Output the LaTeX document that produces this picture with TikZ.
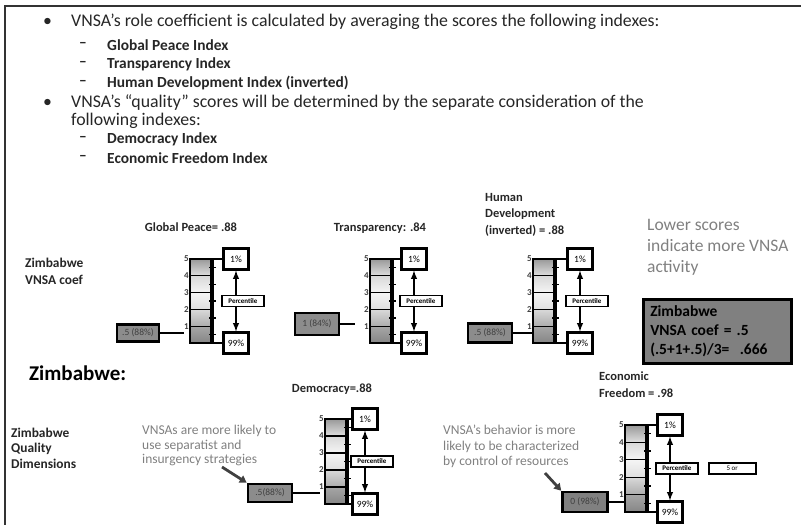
\documentclass[tikz,border=0pt]{standalone}
\usepackage{fontspec}
\setmainfont{Carlito}
\usetikzlibrary{arrows.meta,positioning,calc}

% percentile meter: name, bar left, bar top, bar height, offset of the boxes
\newcommand{\meter}[5]{%
  \foreach \c/\tc/\bc in {0/gray!80/gray!25, 1/gray!30/gray!8, 2/gray!8/gray!25, 3/gray!30/gray!65, 4/gray!70/gray!95} {
    \draw[cell, top color=\tc, bottom color=\bc] (#2,{#3+\c*#4/5}) rectangle ++(21,#4/5);
    \draw[tick] (#2+19,{#3+(\c+0.5)*#4/5}) -- ++(7,0);
    \fill (#2+22.5,{#3+(\c+0.5)*#4/5}) circle (1.5);
    \node[lvl] at (#2-1,{#3+\c*#4/5}) {\pgfmathparse{int(5-\c)}\pgfmathresult};
  }
  \coordinate (#1-t) at (#2,#3);
  \coordinate (#1-b) at (#2,#3+#4);
  \node[pctbox] (#1-hi) at (#2+#5+13,#3) {1\%};
  \node[pctbox] (#1-lo) at (#2+#5+13,#3+#4) {99\%};
  \node[pcttag, anchor=west] (#1-mid) at (#2+#5-2,#3+#4/2) {Percentile};
  \draw[barline] (#2+22.5,#3) -- (#2+22.5,#3+#4);
  \draw[barline] (#1-t) -- (#1-hi.west);
  \draw[barline] (#1-b) -- (#1-lo.west);
  \draw[arrow] (#1-hi.south |- #1-mid.north) -- (#1-hi.south);
  \draw[arrow] (#1-hi.south |- #1-mid.south) -- (#1-lo.north);
}

\begin{document}
\begin{tikzpicture}[
    x=1pt, y=-1pt,
    body/.style={anchor=west, inner sep=0pt, font=\fontsize{17.8}{18}\selectfont, text=black!85},
    item/.style={anchor=west, inner sep=0pt, font=\fontsize{15.4}{16}\selectfont\bfseries, text=black!85},
    title/.style={inner sep=0pt, font=\fontsize{12.5}{16.5}\selectfont\bfseries, text=black!85},
    rowlab/.style={anchor=north west, align=left, inner sep=0pt, font=\fontsize{13.4}{17}\selectfont\bfseries, text=black!85},
    note/.style={anchor=north west, align=left, inner sep=0pt, font=\fontsize{13.5}{14.5}\selectfont, text=black!50},
    cell/.style={draw=black, line width=1.3pt},
    tick/.style={line width=1.4pt},
    lvl/.style={anchor=east, inner sep=0pt, font=\fontsize{9}{9}\selectfont\bfseries, text=black!75},
    barline/.style={line width=2pt},
    pctbox/.style={draw, line width=2.2pt, fill=white, minimum width=25pt, minimum height=21pt, inner sep=0pt, font=\fontsize{9.5}{9.5}\selectfont},
    pcttag/.style={draw, line width=1.8pt, fill=white, minimum width=42pt, minimum height=11pt, inner sep=0pt, font=\fontsize{7}{7}\selectfont\bfseries},
    score/.style={draw, line width=2.5pt, fill=gray!90, minimum width=43pt, minimum height=18pt, inner sep=0pt, font=\fontsize{9.5}{9.5}\selectfont, text=black!75},
    arrow/.style={->, >=latex, line width=1.8pt},
    notearrow/.style={-{Triangle[length=7pt,width=8pt]}, line width=2.8pt, draw=black!75}
]
    \useasboundingbox (0,0) rectangle (801,525);
    \draw[line width=1.3pt, black!80] (5,525) -- (5,6) -- (801,6);

    % bullet list
    \node[body] (b1) at (43,22) {\textbullet};
    \node[body] (l1) at (71,22) {VNSA's role coefficient is calculated by averaging the scores the following indexes:};
    \node[item] (d1) at (79,45) {--};
    \node[item] (i1) at (107,45) {Global Peace Index};
    \node[item] (d2) at (79,64) {--};
    \node[item] (i2) at (107,64) {Transparency Index};
    \node[item] (d3) at (79,83) {--};
    \node[item] (i3) at (107,83) {Human Development Index (inverted)};
    \node[body] (b2) at (43,103) {\textbullet};
    \node[body] (l2) at (71,103) {VNSA's ``quality'' scores will be determined by the separate consideration of the};
    \node[body] (l3) at (71,121) {following indexes:};
    \node[item] (d4) at (79,139) {--};
    \node[item] (i4) at (107,139) {Democracy Index};
    \node[item] (d5) at (79,158) {--};
    \node[item] (i5) at (107,158) {Economic Freedom Index};

    % role coefficient row
    \node[rowlab] (coef) at (25,258) {Zimbabwe\\VNSA coef};
    \node[title] (gpt) at (191,227) {Global Peace= .88};
    \node[title] (trt) at (380,228) {Transparency: .84};
    \node[title, anchor=north west, align=left] (hdt) at (485,193) {Human\\Development\\(inverted) = .88};

    \meter{gp}{190}{259}{84}{33}
    \meter{tr}{370}{259}{84}{31}
    \meter{hd}{533}{259}{84}{34}

    \node[score, minimum width=42pt, minimum height=17pt] (gps) at (138,333) {.5 (88\%)};
    \coordinate (gp-in) at (184,333);
    \draw[barline] (gps) -- (gp-in);
    \node[score, minimum width=44pt, minimum height=22pt] (trs) at (317,324) {1 (84\%)};
    \coordinate (tr-in) at (355,324);
    \draw[barline] (trs) -- (tr-in);
    \node[score, minimum width=44pt, minimum height=19pt] (hds) at (490,333) {.5 (88\%)};
    \draw[barline] (hds) -- (hd-b |- hds);

    \node[anchor=north west, align=left, inner sep=0pt, font=\fontsize{17.5}{21}\selectfont, text=black!50] (lower) at (647,219) {Lower scores\\indicate more VNSA\\activity};
    \node[draw, line width=2.5pt, fill=gray, anchor=north west, minimum width=148pt, minimum height=64pt, text width=134pt, align=left, inner xsep=7pt, inner ysep=4pt, font=\fontsize{15.5}{19}\selectfont\bfseries] (total) at (642,298) {Zimbabwe\\VNSA coef = .5\\(.5+1+.5)/3=\ \ .666};

    % quality dimensions row
    \node[anchor=west, inner sep=0pt, font=\fontsize{21}{22}\selectfont\bfseries] (zim) at (29,373) {Zimbabwe:};
    \node[rowlab, font=\fontsize{13.4}{15.2}\selectfont\bfseries] (qual) at (11,428) {Zimbabwe\\Quality\\Dimensions};
    \node[title] (dmt) at (332,389) {Democracy=.88};
    \node[title, anchor=north west, align=left] (eft) at (599,372) {Economic\\Freedom = .98};

    \meter{dm}{325}{419}{85}{27}
    \meter{ef}{625}{425}{87}{32}
    \node[pcttag, minimum width=47pt, right=9pt of ef-mid, font=\fontsize{7}{7}\selectfont] (efor) {5 or};

    \node[score, minimum width=44pt, minimum height=18pt] (dms) at (270,493) {.5(88\%)};
    \coordinate (dm-in) at (320,493);
    \draw[barline] (dms) -- (dm-in);
    \node[score, minimum width=45pt, minimum height=20pt, fill=gray] (efs) at (585,502) {0 (98\%)};
    \draw[barline] (efs) -- (ef-b |- efs);

    \node[note] (note1) at (142,425) {VNSAs are more likely to\\use separatist and\\insurgency strategies};
    \coordinate (tail1) at (222,467);
    \draw[notearrow] (tail1) -- (dms.north west);
    \node[note, font=\fontsize{13.5}{15.5}\selectfont] (note2) at (443,425) {VNSA's behavior is more\\likely to be characterized\\by control of resources};
    \coordinate (tail2) at (545,473);
    \draw[notearrow] (tail2) -- (efs.north west);
\end{tikzpicture}
\end{document}
